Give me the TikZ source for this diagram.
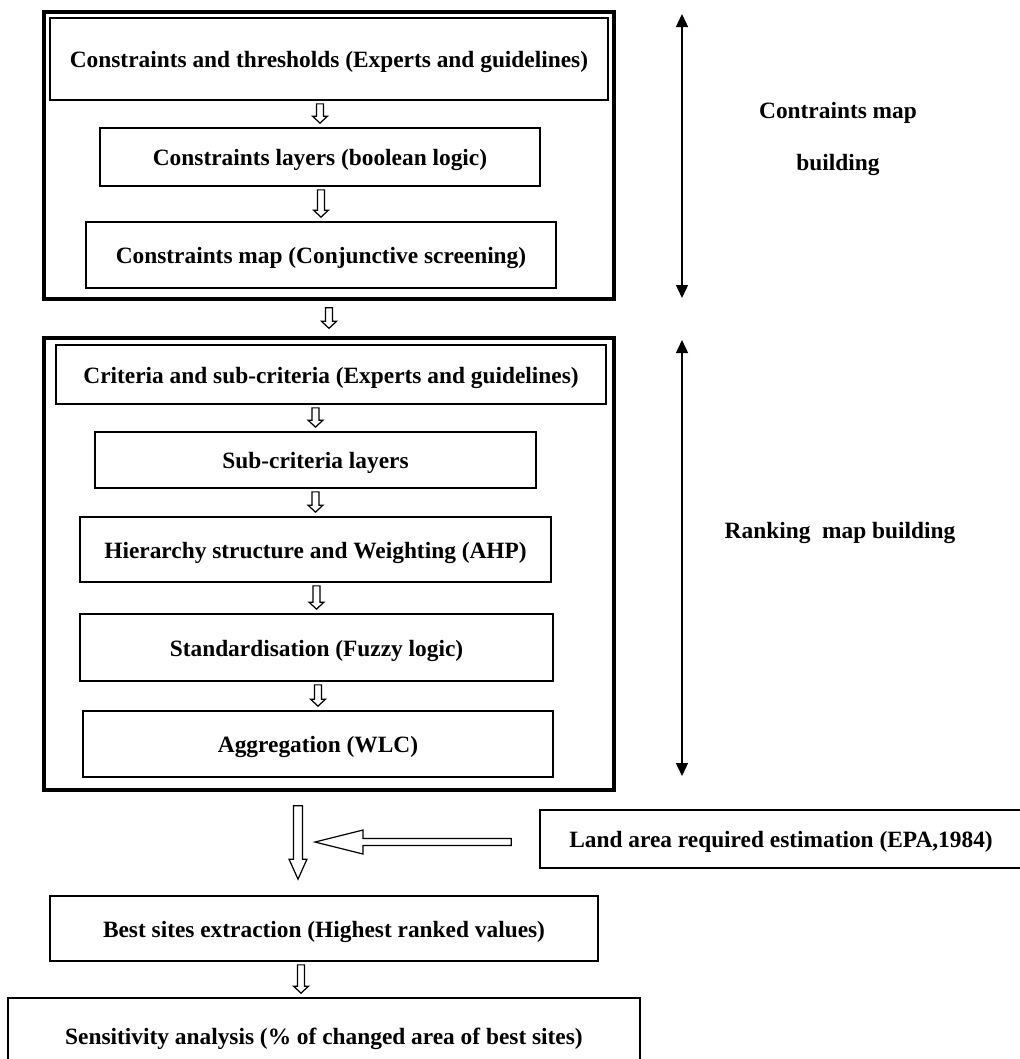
\documentclass[tikz,border=0pt]{standalone}
\usepackage{fontspec}
\setmainfont{Liberation Serif}
\usetikzlibrary{arrows.meta,calc}

\tikzset{
	box/.style={draw, line width=1pt, inner sep=0pt, text height=10pt, text depth=0pt, font=\bfseries\fontsize{13.3}{15}\selectfont},
	stagebox/.style={draw, line width=2pt, inner sep=0pt},
	side/.style={text height=10pt, text depth=0pt, font=\bfseries\fontsize{13.3}{15}\selectfont},
	sidearrow/.style={line width=0.8pt, {Triangle[length=0.26cm,width=0.24cm]}-{Triangle[length=0.26cm,width=0.24cm]}},
	arr shaft/.store in=\shaftw, arr head/.store in=\headw, arr len/.store in=\headl,
	arr gap1/.store in=\gapa, arr gap2/.store in=\gapb,
	arr shaft=0.07cm, arr head=0.15cm, arr len=0.14cm, arr gap1=0.06cm, arr gap2=0.08cm,
	hollowdown/.style={draw, line width=0.7pt, to path={let \p1=(\tikztostart), \p2=(\tikztotarget) in
		(\x2-\shaftw,\y1-\gapa) -- (\x2+\shaftw,\y1-\gapa) -- (\x2+\shaftw,\y2+\gapb+\headl)
		-- (\x2+\headw,\y2+\gapb+\headl) -- (\x2,\y2+\gapb) -- (\x2-\headw,\y2+\gapb+\headl)
		-- (\x2-\shaftw,\y2+\gapb+\headl) -- cycle}},
	hollowleft/.style={draw, line width=0.7pt, to path={let \p1=(\tikztostart), \p2=(\tikztotarget) in
		(\x1-\gapa,\y2-\shaftw) -- (\x1-\gapa,\y2+\shaftw) -- (\x2+\gapb+\headl,\y2+\shaftw)
		-- (\x2+\gapb+\headl,\y2+\headw) -- (\x2+\gapb,\y2) -- (\x2+\gapb+\headl,\y2-\headw)
		-- (\x2+\gapb+\headl,\y2-\shaftw) -- cycle}}
}

\begin{document}
\begin{tikzpicture}[x=0.02cm,y=-0.02cm]
	\useasboundingbox (0,0) rectangle (1019,1059);
	% constraints map building
	\node[stagebox, minimum width=11.4cm, minimum height=5.74cm] (stage1) at (329,155.5) {};
	\node[box, minimum width=11.16cm, minimum height=1.64cm] (thr) at (329,59) {Constraints and thresholds (Experts and guidelines)};
	\node[box, minimum width=8.8cm, minimum height=1.16cm] (lay) at (320,157) {Constraints layers (boolean logic)};
	\node[box, minimum width=9.4cm, minimum height=1.32cm] (cmap) at (321,255) {Constraints map (Conjunctive screening)};
	% ranking map building
	\node[stagebox, minimum width=11.4cm, minimum height=9.04cm] (stage2) at (329,564) {};
	\node[box, minimum width=11cm, minimum height=1.18cm] (crit) at (331,374.5) {Criteria and sub-criteria (Experts and guidelines)};
	\node[box, minimum width=8.82cm, minimum height=1.12cm] (sub) at (315.5,460) {Sub-criteria layers};
	\node[box, minimum width=9.42cm, minimum height=1.3cm] (ahp) at (315.5,549.5) {Hierarchy structure and Weighting (AHP)};
	\node[box, minimum width=9.46cm, minimum height=1.34cm] (std) at (316.5,647.5) {Standardisation (Fuzzy logic)};
	\node[box, minimum width=9.4cm, minimum height=1.32cm] (agg) at (318,744) {Aggregation (WLC)};
	% last steps
	\node[box, minimum width=9.64cm, minimum height=1.16cm] (land) at (781,839) {Land area required estimation (EPA,1984)};
	\node[box, minimum width=10.96cm, minimum height=1.3cm] (best) at (324,928.5) {Best sites extraction (Highest ranked values)};
	\node[box, minimum width=12.64cm, minimum height=1.52cm] (sens) at (324,1036) {Sensitivity analysis (\% of changed area of best sites)};
	% hollow arrows
	\foreach \a/\b in {thr/lay,lay/cmap,crit/sub,sub/ahp,ahp/std,std/agg}{
		\draw[hollowdown] (\a.south) to (\b.north);
	}
	\draw[hollowdown, arr gap1=0.14cm, arr gap2=0.16cm] (stage1.south) to (stage2.north);
	\draw[hollowdown, arr shaft=0.09cm, arr head=0.18cm, arr len=0.4cm, arr gap1=0.28cm, arr gap2=0.32cm] (stage2.south) to ([xshift=-0.52cm]best.north);
	\coordinate (merge) at (315,842);
	\draw[hollowleft, arr shaft=0.07cm, arr head=0.24cm, arr len=0.96cm, arr gap1=0.56cm, arr gap2=0cm] (land.west) to (merge);
	\draw[hollowdown] (best.south) to ([xshift=-0.46cm]sens.north);
	% side arrows and labels
	\coordinate (top1) at (682,14);
	\coordinate (bot1) at (682,298);
	\coordinate (top2) at (682,340);
	\coordinate (bot2) at (682,776);
	\draw[sidearrow] (top1) -- (bot1);
	\draw[sidearrow] (top2) -- (bot2);
	\node[side] (lab1) at (838,110) {Contraints map};
	\node[side] (lab1b) at (838,162) {building};
	\node[side] (lab2) at (840,530) {Ranking~ map building};
\end{tikzpicture}
\end{document}
